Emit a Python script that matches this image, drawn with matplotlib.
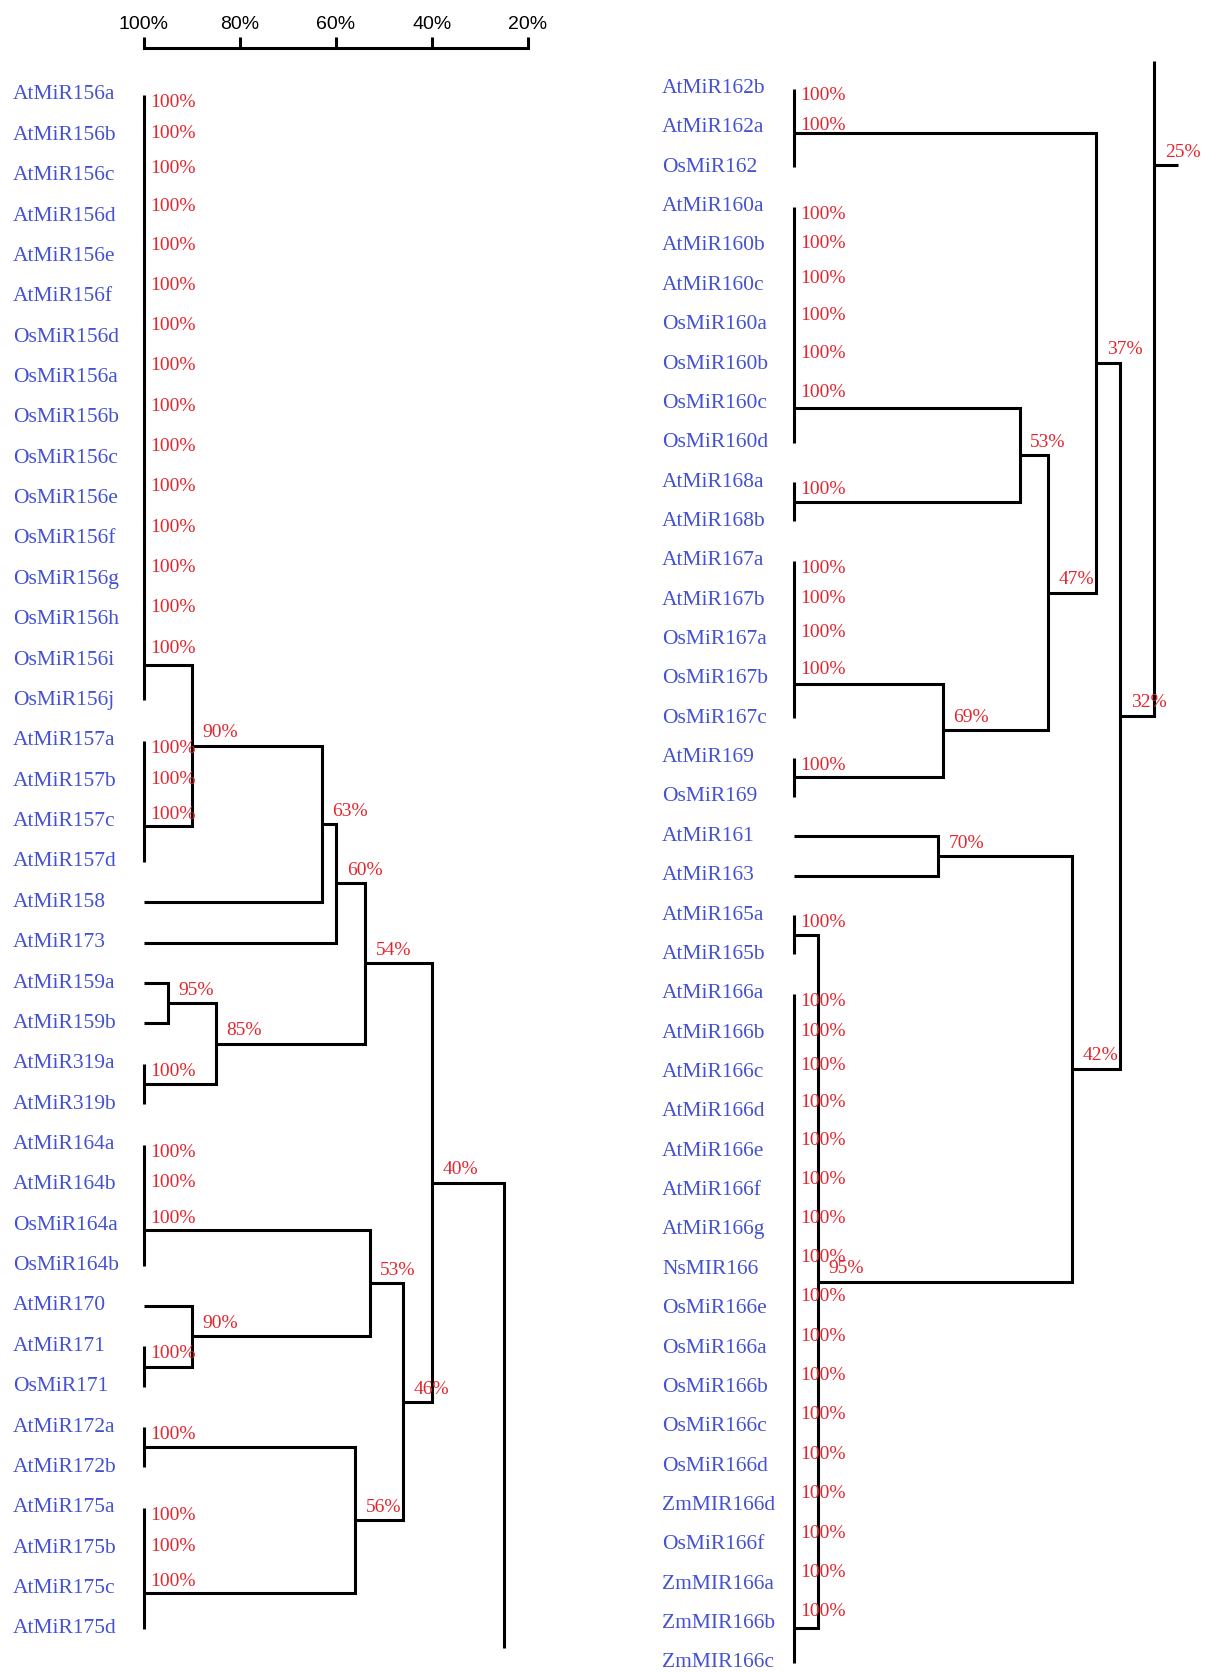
import matplotlib.pyplot as plt
from matplotlib import transforms

# groups of identical sequences (100%), members top to bottom
g156 = ["AtMiR156a", "AtMiR156b", "AtMiR156c", "AtMiR156d", "AtMiR156e", "AtMiR156f",
        "OsMiR156d", "OsMiR156a", "OsMiR156b", "OsMiR156c", "OsMiR156e", "OsMiR156f",
        "OsMiR156g", "OsMiR156h", "OsMiR156i", "OsMiR156j"]
g157 = ["AtMiR157a", "AtMiR157b", "AtMiR157c", "AtMiR157d"]
g319 = ["AtMiR319a", "AtMiR319b"]
g164 = ["AtMiR164a", "AtMiR164b", "OsMiR164a", "OsMiR164b"]
g171 = ["AtMiR171", "OsMiR171"]
g172 = ["AtMiR172a", "AtMiR172b"]
g175 = ["AtMiR175a", "AtMiR175b", "AtMiR175c", "AtMiR175d"]

g162 = ["AtMiR162b", "AtMiR162a", "OsMiR162"]
g160 = ["AtMiR160a", "AtMiR160b", "AtMiR160c", "OsMiR160a", "OsMiR160b",
        "OsMiR160c", "OsMiR160d"]
g168 = ["AtMiR168a", "AtMiR168b"]
g167 = ["AtMiR167a", "AtMiR167b", "OsMiR167a", "OsMiR167b", "OsMiR167c"]
g169 = ["AtMiR169", "OsMiR169"]
g165 = ["AtMiR165a", "AtMiR165b"]
g166 = ["AtMiR166a", "AtMiR166b", "AtMiR166c", "AtMiR166d", "AtMiR166e", "AtMiR166f",
        "AtMiR166g", "NsMIR166", "OsMiR166e", "OsMiR166a", "OsMiR166b", "OsMiR166c",
        "OsMiR166d", "ZmMIR166d", "OsMiR166f", "ZmMIR166a", "ZmMIR166b", "ZmMIR166c"]

# merges: (similarity %, upper branch, lower branch)
left_tree = (40,
             (54, (60, (63, (90, g156, g157), "AtMiR158"), "AtMiR173"),
                  (85, (95, "AtMiR159a", "AtMiR159b"), g319)),
             (46, (53, g164, (90, "AtMiR170", g171)),
                  (56, g172, g175)))
right_tree = (32,
              (37, g162, (47, (53, g160, g168), (69, g167, g169))),
              (42, (70, "AtMiR161", "AtMiR163"), (95, g165, g166)))
root_pct = 25

scale_ticks = [100, 80, 60, 40, 20]

BLUE = "#4452d2"
RED = "#e3262e"
LW = 2.2
W, H = 1216, 1673

fig = plt.figure(figsize=(W / 100, H / 100), dpi=100)


def make_panel(x100, row0, step):
    ax = fig.add_axes([x100 / W, 0, 384 / W, 1])
    ax.set_xlim(100, 20)
    ax.set_ylim((H - row0) / step, -row0 / step)
    for s in ax.spines.values():
        s.set_visible(False)
    ax.set_xticks([])
    ax.set_yticks([])
    return ax


def leaf(ax, name, r, label_x):
    tr = transforms.blended_transform_factory(fig.transFigure, ax.transData)
    ax.text(label_x, r, name, transform=tr, ha="left", va="center", color=BLUE,
            fontsize=15.5, family="Liberation Serif")


def pct_label(ax, text, x, y, dx, dy):
    ax.annotate(text, (x, y), xytext=(dx, dy), textcoords="offset points",
                ha="left", va="center", color=RED, fontsize=14,
                family="Liberation Serif", annotation_clip=False)


def draw(ax, node, nxt, label_x):
    if isinstance(node, str):
        r = nxt[0]
        nxt[0] += 1
        leaf(ax, node, r, label_x)
        return 100, r
    if isinstance(node, list):
        r0 = nxt[0]
        nxt[0] += len(node)
        r1 = r0 + len(node) - 1
        for k, name in enumerate(node):
            leaf(ax, name, r0 + k, label_x)
        ax.plot([100, 100], [r0, r1], color="black", lw=LW,
                solid_capstyle="butt", clip_on=False)
        for k in range(len(node) - 1):
            d = -11 + 18 * 0.5 ** k
            pct_label(ax, "100%", 100, r0 + k, 4.6, -0.77 * d)
        return 100, (r0 + 0.5 if len(node) == 2 else r1 - 0.88)
    pct, a, b = node
    xa, ya = draw(ax, a, nxt, label_x)
    xb, yb = draw(ax, b, nxt, label_x)
    ax.plot([xa, pct, pct, xb], [ya, ya, yb, yb], color="black", lw=LW,
            solid_joinstyle="miter", solid_capstyle="butt", clip_on=False)
    y = (ya + yb) / 2
    pct_label(ax, f"{pct}%", pct, y, 7.7, 9.2)
    return pct, y


# left half with the similarity scale on top
axl = make_panel(144, 94.9, 40.37)
xl, yl = draw(axl, left_tree, [0], 12.8 / W)
axl.plot([xl, root_pct, root_pct], [yl, yl, 38.48], color="black", lw=LW,
         solid_joinstyle="miter", solid_capstyle="butt", clip_on=False)

axl.spines["top"].set_visible(True)
axl.spines["top"].set_position(("data", -1.162))
axl.spines["top"].set_linewidth(LW)
axl.xaxis.set_ticks_position("top")
axl.set_xticks(scale_ticks)
axl.set_xticklabels([f"{t}%" for t in scale_ticks], family="Liberation Sans")
axl.tick_params(axis="x", direction="out", length=7.6, width=LW, pad=3,
                labelsize=14)

# right half, continuing the root branch
axr = make_panel(794, 88.5, 39.36)
xr, yr = draw(axr, right_tree, [0], 662 / W)
axr.plot([xr, root_pct, root_pct], [yr, yr, -0.7], color="black", lw=LW,
         solid_joinstyle="miter", solid_capstyle="butt", clip_on=False)
axr.plot([root_pct, 20], [1.95, 1.95], color="black", lw=LW,
         solid_capstyle="butt", clip_on=False)
pct_label(axr, f"{root_pct}%", root_pct, 1.95, 7.7, 9.2)

fig.savefig("out.png", dpi=100)
